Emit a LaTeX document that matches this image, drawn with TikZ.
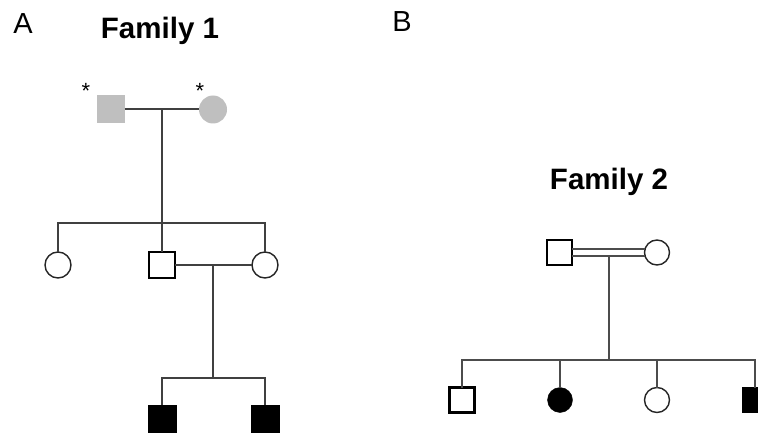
\documentclass[tikz,border=0pt]{standalone}
\usepackage{fontspec}
\setmainfont{Liberation Sans}
\begin{document}
\begin{tikzpicture}[x=1pt,y=-1pt,
  line/.style={draw=black!75, line width=1.5pt},
  thin line/.style={draw=black!70, line width=1.1pt},
  male/.style={rectangle, minimum size=#1, inner sep=0pt, outer sep=0pt},
  female/.style={circle, minimum size=#1, inner sep=0pt, outer sep=0pt},
  carrier/.style={fill=black!25},
  unaff/.style={draw=black!85, fill=white, line width=1.4pt},
  unaffsq/.style={draw=black, fill=white, line width=2.2pt},
  aff/.style={fill=black, draw=black},
  title/.style={font=\fontsize{29.5}{30}\selectfont\bfseries, inner sep=0pt},
  panel/.style={font=\fontsize{29}{30}\selectfont, inner sep=0pt},
  star/.style={font=\fontsize{22}{22}\selectfont, inner sep=0pt, anchor=base}
]
\useasboundingbox (0,0) rectangle (758,433);
% labels
\node[panel] (A) at (23,24) {A};
\node[panel] (B) at (402,22) {B};
\node[title] (t1) at (160,31) {Family 1};
\node[title] (t2) at (609,182) {Family 2};
% ---------- Family 1 ----------
\node[male=28pt, carrier] (f1) at (110.5,109) {};
\node[female=28pt, carrier] (m1) at (213,109.5) {};
\node[star] (s1) at (86,99) {*};
\node[star] (s2) at (200,99) {*};
\coordinate (j1) at (162,109);
\coordinate (k1) at (162,223);
\coordinate (k1l) at (58,223);
\coordinate (k1r) at (265,223);
\node[female=26pt, unaff] (c1) at (58,265) {};
\node[male=26pt, unaffsq] (c2) at (162,265) {};
\node[female=26pt, unaff] (c3) at (265,265) {};
\coordinate (j2) at (213,265);
\coordinate (k2) at (213,378);
\coordinate (k2l) at (162,378);
\coordinate (k2r) at (265,378);
\node[male=28pt, aff] (g1) at (162,419) {};
\node[male=28pt, aff] (g2) at (265,419) {};
\draw[line] (f1.east) -- (f1.east -| m1.west);
\draw[line] (j1) -- (k1);
\draw[line] (c1.north) -- (k1l) -- (k1r) -- (c3.north);
\draw[line] (k1) -- (c2.north);
\draw[line] (c2.east) -- (c3.west);
\draw[line] (j2) -- (k2);
\draw[line] (g1.north) -- (k2l) -- (k2r) -- (g2.north);
% ---------- Family 2 ----------
\node[male=25pt, unaffsq] (f2) at (559.5,252.5) {};
\node[female=25pt, unaff] (m2) at (657,252.5) {};
\coordinate (j3) at (609,256);
\coordinate (k3) at (609,360);
\coordinate (k3l) at (462,360);
\coordinate (k3r) at (755,360);
\node[male=25pt, unaffsq] (d1) at (462,400) {};
\node[female=25pt, aff] (d2) at (560,400) {};
\node[female=25pt, unaff] (d3) at (657,400) {};
\node[male=25pt, aff] (d4) at (755,400) {};
\draw[thin line] ([yshift=-3.5pt]f2.east) -- ([yshift=-3.5pt]f2.east -| m2.west);
\draw[thin line] ([yshift=3.5pt]f2.east) -- ([yshift=3.5pt]f2.east -| m2.west);
\draw[thin line] (j3) -- (k3);
\draw[thin line] (d1.north) -- (k3l) -- (k3r) -- (d4.north);
\draw[thin line] (d2.north) -- (d2.north |- k3);
\draw[thin line] (d3.north) -- (d3.north |- k3);
\end{tikzpicture}
\end{document}
